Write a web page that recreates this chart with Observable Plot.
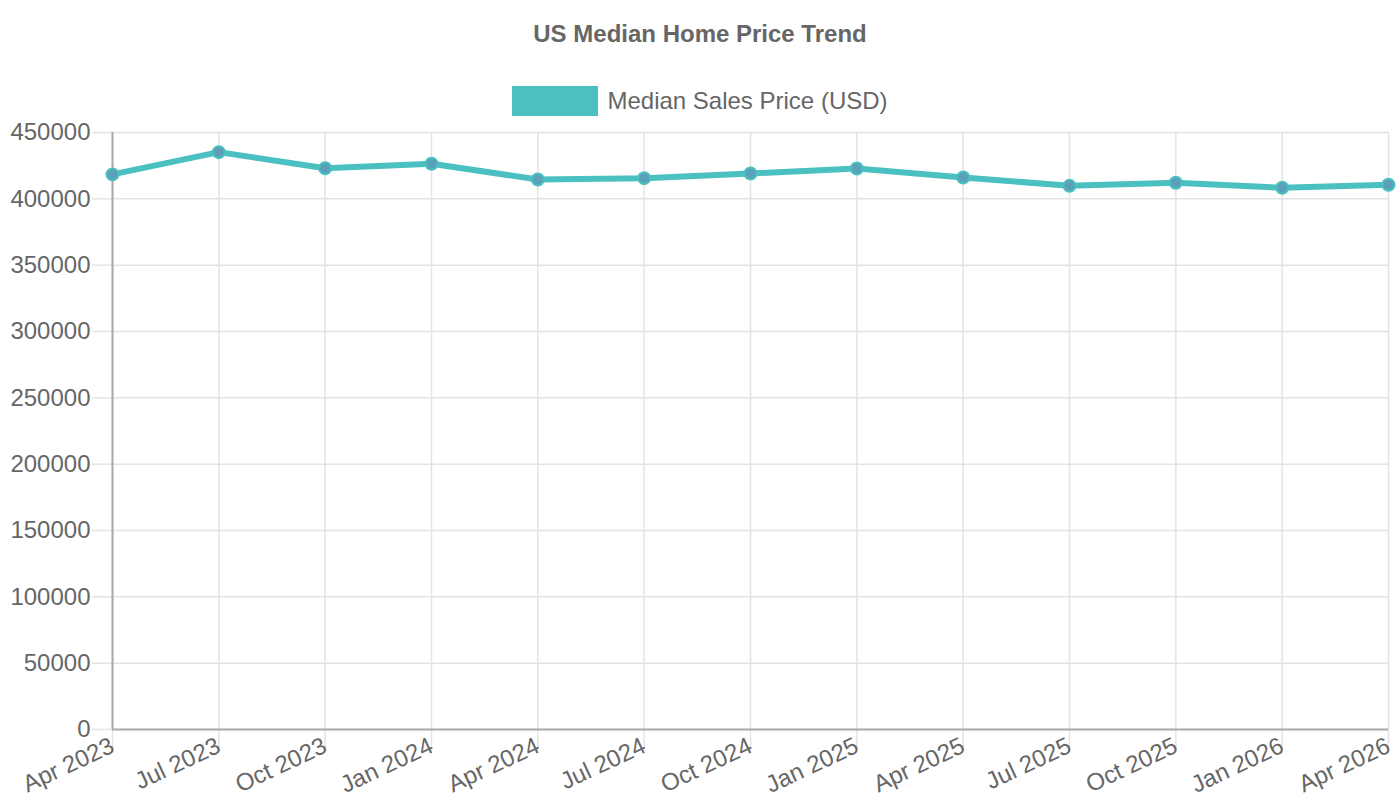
<!DOCTYPE html>
<html>
<head>
<meta charset="utf-8">
<script src="https://cdn.jsdelivr.net/npm/d3@7"></script>
<script src="https://cdn.jsdelivr.net/npm/@observablehq/plot@0.6"></script>
<style>
  html, body { margin: 0; padding: 0; background: #fff; }
  body { width: 1400px; height: 800px; overflow: hidden; font-family: "Liberation Sans", Arial, sans-serif; color: #666; }
  #header { position: relative; width: 1400px; height: 120px; }
  #title { position: absolute; top: 21px; left: 0; width: 1400px; text-align: center; font-weight: bold; font-size: 24px; line-height: 26px; color: #666; }
  #legend { position: absolute; top: 86px; left: 0; width: 1400px; display: flex; justify-content: center; align-items: center; gap: 9px; }
  #legend .sw { width: 86px; height: 30px; background: #4bc0c0; }
  #legend .lb { font-size: 24px; line-height: 30px; color: #666; }
  #chart svg { display: block; }
</style>
</head>
<body>
<div id="header">
  <div id="title">US Median Home Price Trend</div>
  <div id="legend"><div class="sw"></div><div class="lb">Median Sales Price (USD)</div></div>
</div>
<div id="chart"></div>
<script>
const months = ["Apr 2023", "Jul 2023", "Oct 2023", "Jan 2024", "Apr 2024", "Jul 2024", "Oct 2024", "Jan 2025", "Apr 2025", "Jul 2025", "Oct 2025", "Jan 2026", "Apr 2026"];
const prices = [418400, 435200, 423100, 426400, 414600, 415600, 419100, 422900, 416100, 409800, 412100, 408300, 410600];
const yTicks = [0, 50000, 100000, 150000, 200000, 250000, 300000, 350000, 400000, 450000];

const data = months.map((m, i) => ({month: m, price: prices[i]}));

const chart = Plot.plot({
  width: 1400,
  height: 680,
  marginTop: 12,
  marginLeft: 112,
  marginRight: 12,
  marginBottom: 71,
  style: { fontFamily: "'Liberation Sans', Arial, sans-serif", fontSize: "24px", color: "#666", background: "#fff", overflow: "visible" },
  x: { type: "point", domain: months, padding: 0, round: false, label: null },
  y: { domain: [0, 450000], label: null },
  marks: [
    Plot.gridY(yTicks, { stroke: "#e3e3e3", strokeOpacity: 1, strokeWidth: 1.5 }),
    Plot.gridX(months, { stroke: "#e3e3e3", strokeOpacity: 1, strokeWidth: 1.5 }),
    Plot.axisY(yTicks, { tickSize: 20, tickPadding: 2, tickFormat: d => String(d), stroke: "#e3e3e3", strokeWidth: 1.5, fill: "#666", label: null }),
    Plot.axisX(months, { tickSize: 20, tickPadding: -5, tickRotate: -25, stroke: "#e3e3e3", strokeWidth: 1.5, fill: "#666", label: null }),
    Plot.ruleY([0], { stroke: "#aaa", strokeWidth: 2 }),
    Plot.ruleX([months[0]], { stroke: "#aaa", strokeWidth: 2 }),
    Plot.line(data, { x: "month", y: "price", stroke: "#4bc0c0", strokeWidth: 6, strokeLinejoin: "round" }),
    Plot.dot(data, { x: "month", y: "price", r: 6, fill: "#5aa0b8", stroke: "#4bc0c0", strokeWidth: 2 })
  ]
});
document.getElementById("chart").appendChild(chart);
</script>
</body>
</html>
